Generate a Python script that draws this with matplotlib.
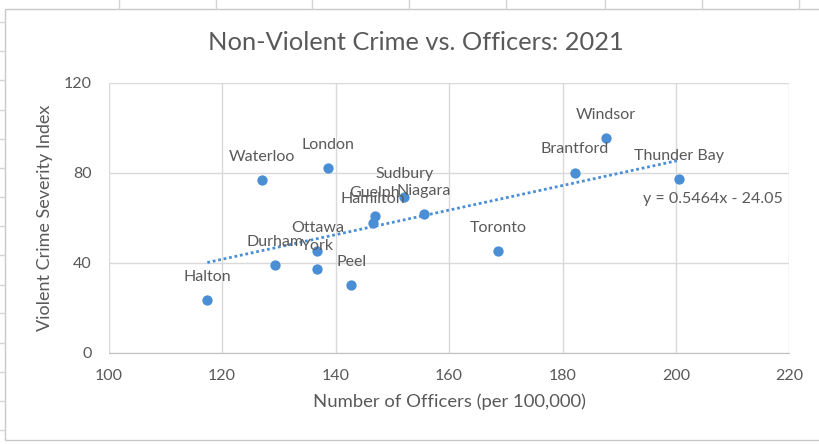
import matplotlib
matplotlib.use("Agg")
import matplotlib.pyplot as plt
from matplotlib.lines import Line2D
from matplotlib.patches import Rectangle

# values
cities = ["Halton", "Durham", "York", "Ottawa", "Peel", "Waterloo", "London",
          "Hamilton", "Guelph", "Sudbury", "Niagara", "Toronto", "Brantford",
          "Windsor", "Thunder Bay"]
officers = [117.4, 129.4, 136.8, 136.8, 142.8, 127.0, 138.6,
            146.6, 146.9, 152.1, 155.6, 168.7, 182.2, 187.7, 200.5]
severity = [23.4, 39.0, 37.2, 45.2, 30.1, 76.8, 82.1,
            57.8, 60.8, 69.1, 61.5, 45.2, 80.0, 95.3, 77.2]

# linear trendline as shown by excel
slope = 0.5464
intercept = -24.05

x_ticks = [100, 120, 140, 160, 180, 200, 220]
y_ticks = [0, 40, 80, 120]

blue = "#4a8fd6"
text_grey = "#595959"
grid_grey = "#d9d9d9"

plt.rcParams["font.family"] = ["Lato", "DejaVu Sans"]

W, H = 819, 444
fig = plt.figure(figsize=(W / 100, H / 100), dpi=100)

# spreadsheet cells visible around the chart object
cell_col = "#d4d4d4"
for cx in [119, 216, 312, 409, 506, 605, 702, 799]:
    fig.add_artist(Line2D([cx / W, cx / W], [1, 1 - 9 / H], color=cell_col, lw=1))
for cy in [22, 51, 80, 110, 139, 168, 197, 226, 255, 285, 313, 343, 372, 401, 430]:
    fig.add_artist(Line2D([0, 5 / W], [1 - cy / H, 1 - cy / H], color=cell_col, lw=1))
fig.add_artist(Rectangle((5 / W, 1 - 440 / H), 1.0, (440 - 9) / H,
                         transform=fig.transFigure, facecolor="white",
                         edgecolor="#c8c8c8", lw=1, zorder=0))

ax = fig.add_axes([108.6 / W, 1 - 352.7 / H, (789.5 - 108.6) / W, (352.7 - 82.7) / H])
ax.set_facecolor("none")

ax.scatter(officers, severity, s=55, color=blue, zorder=3, linewidths=0)

xs = [min(officers), max(officers)]
ax.plot(xs, [slope * v + intercept for v in xs], color=blue, lw=2,
        linestyle=(0, (1, 1)), zorder=2)

for name, xv, yv in zip(cities, officers, severity):
    ax.annotate(name, (xv, yv), xytext=(0, 16.8), textcoords="offset points",
                ha="center", va="center", fontsize=11.5, color=text_grey, zorder=4)

ax.annotate("y = 0.5464x - 24.05", (max(officers), slope * max(officers) + intercept),
            xytext=(-26, -28), textcoords="offset points", ha="left", va="center",
            fontsize=11.5, color=text_grey)

ax.set_xlim(100, 220)
ax.set_ylim(0, 120)
ax.set_xticks(x_ticks)
ax.set_yticks(y_ticks)
ax.grid(True, color=grid_grey, lw=1)
ax.set_axisbelow(True)
for s in ["top", "right", "left"]:
    ax.spines[s].set_visible(False)
ax.spines["bottom"].set_color("#bfbfbf")
ax.tick_params(length=0, colors=text_grey, labelsize=11.5, pad=12)
ax.tick_params(axis="y", pad=12)

ax.set_xlabel("Number of Officers (per 100,000)", fontsize=13.3, color=text_grey, labelpad=7)
ax.set_ylabel("Violent Crime Severity Index", fontsize=13, color=text_grey, labelpad=8)

fig.text(0.508, 1 - 42 / H, "Non-Violent Crime vs. Officers: 2021", ha="center",
         va="center", fontsize=18.3, color=text_grey)

fig.savefig("out.png", dpi=100)
